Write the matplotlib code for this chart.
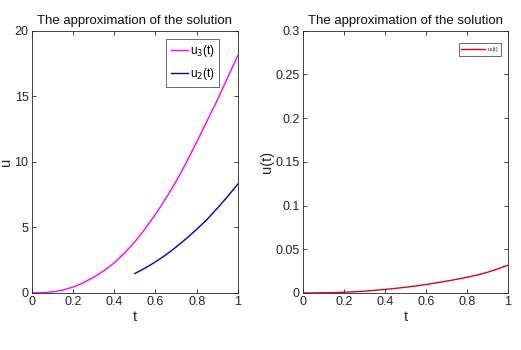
import matplotlib
matplotlib.use('Agg')
import matplotlib.pyplot as plt

plt.rcParams['font.family'] = ['Liberation Sans', 'DejaVu Sans']

# approximate solutions sampled at t = 0, 0.05, ..., 1
t = [0.0, 0.05, 0.1, 0.15, 0.2, 0.25, 0.3, 0.35, 0.4, 0.45, 0.5,
     0.55, 0.6, 0.65, 0.7, 0.75, 0.8, 0.85, 0.9, 0.95, 1.0]
u3 = [0.0, 0.02, 0.08, 0.22, 0.45, 0.78, 1.2, 1.7, 2.3, 3.05, 3.9,
      4.9, 6.0, 7.2, 8.5, 9.95, 11.5, 13.1, 14.7, 16.4, 18.1]
t2 = [0.5, 0.55, 0.6, 0.65, 0.7, 0.75, 0.8, 0.85, 0.9, 0.95, 1.0]
u2 = [1.48, 1.9, 2.37, 2.9, 3.5, 4.15, 4.85, 5.6, 6.45, 7.35, 8.3]
u1 = [0.0, 0.00005, 0.0002, 0.0004, 0.0008, 0.0013, 0.002, 0.003, 0.004, 0.0052,
      0.0065, 0.008, 0.0096, 0.0115, 0.0135, 0.0156, 0.0179, 0.0205, 0.0236, 0.0274, 0.0317]

xticks = [0, 0.2, 0.4, 0.6, 0.8, 1]
xticklabels = ['0', '0.2', '0.4', '0.6', '0.8', '1']


def style(ax):
    ax.set_xlim(0, 1)
    ax.set_xticks(xticks)
    ax.set_xticklabels(xticklabels)
    ax.tick_params(direction='in', top=True, right=True, labelsize=9,
                   length=3, width=0.6, colors='#262626', pad=2.5)
    for s in ax.spines.values():
        s.set_linewidth(0.6)
        s.set_color('#262626')
    ax.set_title('The approximation of the solution', fontsize=9.5, pad=5,
                 color='#111111')
    ax.set_xlabel('t', fontsize=10.5, labelpad=1, color='#262626')


fig = plt.figure(figsize=(5.21, 3.5), dpi=100)

ax1 = fig.add_axes([0.0614, 0.163, 0.395, 0.749])
ax1.plot(t, u3, color='#ff00ff', linewidth=1.0, label='u$_3$(t)')
ax1.plot(t2, u2, color='#0000c8', linewidth=1.0, label='u$_2$(t)')
ax1.set_ylim(0, 20)
ax1.set_yticks([0, 5, 10, 15, 20])
style(ax1)
ax1.set_ylabel('u', fontsize=10.5, labelpad=1, color='#262626')
leg = ax1.legend(loc='upper right', bbox_to_anchor=(0.908, 0.97), fontsize=8.5,
                 frameon=True, fancybox=False, handlelength=1.4,
                 handletextpad=0.15, borderpad=0.4, labelspacing=0.6,
                 borderaxespad=0.0)
leg.get_frame().set_edgecolor('#262626')
leg.get_frame().set_linewidth(0.6)

ax2 = fig.add_axes([0.5816, 0.163, 0.393, 0.749])
ax2.plot(t, u1, color='#e0001a', linewidth=1.0, label='u$_1$(t)')
ax2.set_ylim(0, 0.3)
ax2.set_yticks([0, 0.05, 0.1, 0.15, 0.2, 0.25, 0.3])
ax2.set_yticklabels(['0', '0.05', '0.1', '0.15', '0.2', '0.25', '0.3'])
style(ax2)
ax2.set_ylabel('u(t)', fontsize=10.5, labelpad=1, color='#262626')
leg2 = ax2.legend(loc='upper right', bbox_to_anchor=(0.965, 0.955), fontsize=3.5,
                  frameon=True, fancybox=False, handlelength=5,
                  handletextpad=0.3, borderpad=0.5, borderaxespad=0.0)
leg2.get_frame().set_edgecolor('#262626')
leg2.get_frame().set_linewidth(0.6)

fig.savefig('out.png', dpi=100)
